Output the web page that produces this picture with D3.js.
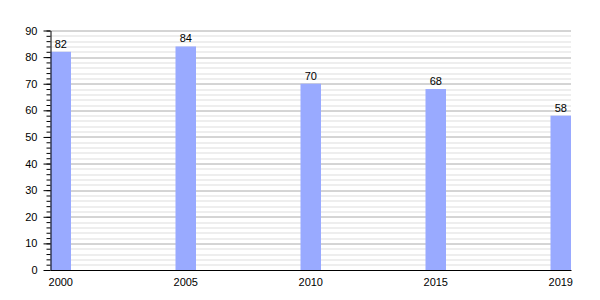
<!DOCTYPE html>
<html>
<head>
<meta charset="utf-8">
<script src="https://cdn.jsdelivr.net/npm/d3@7"></script>
<style>
  body { margin: 0; background: #fff; }
  text { font-family: "Liberation Sans", Arial, sans-serif; font-size: 11px; fill: #000; }
</style>
</head>
<body>
<div id="chart"></div>
<script>
// data
var years = ["2000", "2005", "2010", "2015", "2019"];
var values = [82, 84, 70, 68, 58];
var yMajorTicks = [0, 10, 20, 30, 40, 50, 60, 70, 80, 90];

// settings
var margin = {top: 30.5, right: 29, bottom: 30, left: 50.5},
    width = 600 - margin.left - margin.right,
    height = 300 - margin.top - margin.bottom;

var svg = d3.select("#chart")
    .append("svg")
    .attr("width", 600)
    .attr("height", 300)
    .append("g")
    .attr("transform", "translate(" + margin.left + "," + margin.top + ")");

var x = d3.scaleBand()
    .domain(years)
    .range([0, width])
    .paddingInner(0.836)
    .paddingOuter(0);

var y = d3.scaleLinear()
    .domain([0, 90])
    .range([height, 0]);

// minor grid every 2
svg.append("g")
    .selectAll("line")
    .data(d3.range(0, 91, 2).filter(function (d) { return d % 10 !== 0; }))
    .enter()
    .append("line")
    .attr("x1", 0)
    .attr("x2", width)
    .attr("y1", function (d) { return Math.round(y(d)) + 0.5; })
    .attr("y2", function (d) { return Math.round(y(d)) + 0.5; })
    .attr("stroke", "#dddddd")
    .attr("stroke-width", 1);

// major grid
svg.append("g")
    .selectAll("line")
    .data(yMajorTicks.slice(1))
    .enter()
    .append("line")
    .attr("x1", 0)
    .attr("x2", width)
    .attr("y1", function (d) { return Math.round(y(d)) + 0.5; })
    .attr("y2", function (d) { return Math.round(y(d)) + 0.5; })
    .attr("stroke", "#aaaaaa")
    .attr("stroke-width", 1);

// bars
svg.append("g")
    .selectAll("rect")
    .data(values)
    .enter()
    .append("rect")
    .attr("x", function (d, i) { return x(years[i]); })
    .attr("y", function (d) { return y(d); })
    .attr("width", x.bandwidth())
    .attr("height", function (d) { return height - y(d); })
    .attr("fill", "#99aaff");

// value labels
svg.append("g")
    .selectAll("text")
    .data(values)
    .enter()
    .append("text")
    .attr("x", function (d, i) { return x(years[i]) + x.bandwidth() / 2; })
    .attr("y", function (d) { return y(d) - 4; })
    .attr("text-anchor", "middle")
    .text(function (d) { return d; });

// y axis minor ticks
svg.append("g")
    .call(d3.axisLeft(y).tickValues(d3.range(0, 91, 2)).tickSize(4).tickFormat(""))
    .call(function (g) { g.select(".domain").remove(); })
    .selectAll("line").attr("stroke", "#000");

// y axis
var yAxis = svg.append("g")
    .call(d3.axisLeft(y).tickValues(yMajorTicks).tickSize(7).tickPadding(6).tickSizeOuter(0));
yAxis.select(".domain").attr("stroke", "#000");
yAxis.selectAll("text").style("font-size", "11px").attr("font-family", null);

// x axis
var xAxis = svg.append("g")
    .attr("transform", "translate(0," + height + ")")
    .call(d3.axisBottom(x).tickSize(0).tickPadding(8).tickSizeOuter(0));
xAxis.select(".domain").attr("stroke", "#000");
xAxis.selectAll("text").style("font-size", "11px").attr("font-family", null);
</script>
</body>
</html>
